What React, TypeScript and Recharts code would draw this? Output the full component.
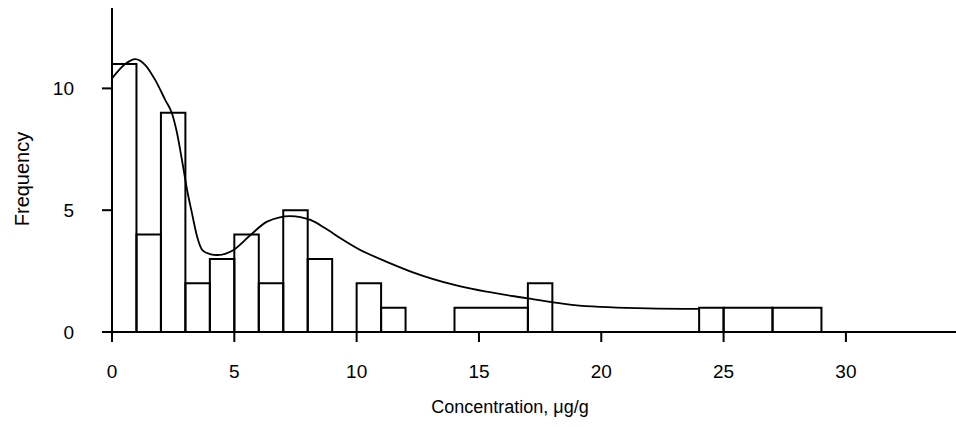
import { ComposedChart, Line, XAxis, YAxis, ReferenceArea, Label } from 'recharts';

// histogram bins (concentration, ug/g) and frequencies
const binStart = [0, 1, 2, 3, 4, 5, 6, 7, 8, 10, 11, 14, 17, 24, 25, 27];
const binEnd = [1, 2, 3, 4, 5, 6, 7, 8, 9, 11, 12, 17, 18, 25, 27, 29];
const counts = [11, 4, 9, 2, 3, 4, 2, 5, 3, 2, 1, 1, 2, 1, 1, 1];

// fitted density curve
const curveX = [0, 0.54, 0.95, 1.36, 1.77, 2.18, 2.45, 2.66, 2.86, 3.07, 3.27, 3.48, 3.7, 4.0, 4.3, 4.97, 5.66, 6.34, 7.29, 8.11, 8.7, 9.34, 10.0, 11.38, 12.3, 14.0, 17.0, 19.1, 21.9, 24.0];
const curveY = [10.41, 11.0, 11.2, 10.96, 10.34, 9.52, 8.98, 8.16, 7.06, 5.83, 4.87, 3.91, 3.35, 3.2, 3.16, 3.37, 3.98, 4.53, 4.76, 4.6, 4.27, 3.85, 3.45, 2.82, 2.45, 1.93, 1.38, 1.08, 0.97, 0.95];

const xTicks = [0, 5, 10, 15, 20, 25, 30];
const yTicks = [0, 5, 10];

const curve = curveX.map((x, i) => ({ x, y: curveY[i] }));

const font = 'Liberation Sans, Arial, sans-serif';

export default function App() {
  return (
    <div style={{ position: 'absolute', left: 0, top: 0, background: '#fff' }}>
      <ComposedChart
        width={956}
        height={427}
        data={curve}
        margin={{ top: 8, right: 0, left: 0, bottom: 0 }}
        style={{ fontFamily: font }}
      >
        <XAxis
          dataKey="x"
          type="number"
          domain={[0, 34.5]}
          ticks={xTicks}
          height={95}
          tickSize={10}
          tickMargin={23}
          stroke="#000"
          strokeWidth={2}
          tick={{ fontSize: 19, fill: '#000', fontFamily: font }}
          allowDataOverflow
        >
          <Label
            value="Concentration, μg/g"
            position="insideBottom"
            offset={14}
            dx={-24}
            style={{ fontSize: 18, fill: '#000', fontFamily: font }}
          />
        </XAxis>
        <YAxis
          type="number"
          domain={[0, 13.3]}
          ticks={yTicks}
          width={112}
          tickSize={10}
          tickMargin={28}
          stroke="#000"
          strokeWidth={2}
          tick={{ fontSize: 19, fill: '#000', fontFamily: font }}
          allowDataOverflow
        >
          <Label
            value="Frequency"
            angle={-90}
            position="center"
            dx={-34}
            dy={9}
            style={{ fontSize: 20, fill: '#000', fontFamily: font, textAnchor: 'middle' }}
          />
        </YAxis>
        {counts.map((c, i) => (
          <ReferenceArea
            key={i}
            x1={binStart[i]}
            x2={binEnd[i]}
            y1={0}
            y2={c}
            fill="#fff"
            fillOpacity={0}
            stroke="#000"
            strokeWidth={2}
            ifOverflow="visible"
          />
        ))}
        <Line
          dataKey="y"
          type="monotone"
          stroke="#000"
          strokeWidth={1.8}
          dot={false}
          isAnimationActive={false}
        />
      </ComposedChart>
    </div>
  );
}
